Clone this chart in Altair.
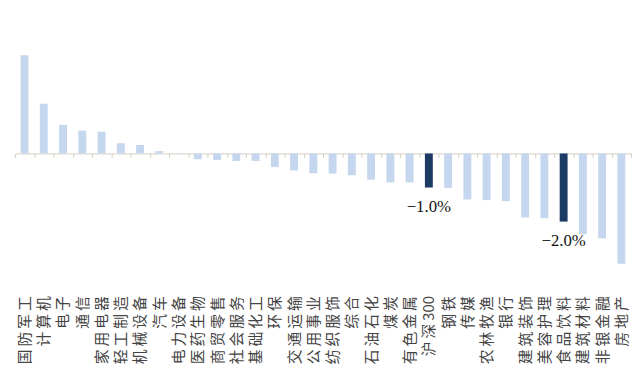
import altair as alt
import pandas as pd

categories = ["国防军工", "计算机", "电子", "通信", "家用电器", "轻工制造", "机械设备", "汽车",
              "电力设备", "医药生物", "商贸零售", "社会服务", "基础化工", "环保", "交通运输", "公用事业",
              "纺织服饰", "综合", "石油石化", "煤炭", "有色金属", "沪深300", "钢铁", "传媒",
              "农林牧渔", "银行", "建筑装饰", "美容护理", "食品饮料", "建筑材料", "非银金融", "房地产"]
values = [2.88, 1.46, 0.84, 0.67, 0.64, 0.30, 0.25, 0.07,
          -0.01, -0.17, -0.19, -0.22, -0.22, -0.40, -0.50, -0.58,
          -0.59, -0.64, -0.77, -0.85, -0.85, -1.00, -1.01, -1.35,
          -1.37, -1.40, -1.88, -1.90, -2.00, -2.37, -2.49, -3.24]
highlighted = ["沪深300", "食品饮料"]

df = pd.DataFrame({"cat": categories, "value": values})
df["hl"] = df["cat"].isin(highlighted)

x = alt.X("cat:N", sort=categories,
          scale=alt.Scale(paddingInner=0, paddingOuter=0),
          axis=alt.Axis(title=None, orient="bottom", offset=-127, labelAngle=270,
                        domainColor="#d6cec4", tickColor="#d6cec4", tickBand="extent",
                        tickSize=4, labelPadding=140, labelFont="Noto Sans CJK SC",
                        labelFontSize=15, labelColor="#444444",
                        labelExpr="replace(datum.label, regexp('([^0-9])(?=.)', 'g'), '$1\u2009')"))
y = alt.Y("value:Q", scale=alt.Scale(domain=[-3.68, 4.203], nice=False, zero=False), axis=None)

bars = alt.Chart(df).mark_bar(size=8).encode(
    x=x, y=y,
    color=alt.Color("hl:N", scale=alt.Scale(domain=[False, True], range=["#c5d7ee", "#1b3a64"]), legend=None),
)

labels = alt.Chart(df).transform_filter(alt.datum.hl).transform_calculate(
    txt="format(datum.value, '.1f') + '%'"
).mark_text(baseline="top", dy=12, font="Liberation Serif", fontSize=17, color="#111111").encode(
    x=alt.X("cat:N", sort=categories), y=y, text="txt:N")

chart = alt.layer(bars, labels).properties(width=624, height=272, padding=0).configure_view(stroke=None)
chart.save("out.html", embed_options={"renderer": "svg", "actions": False})
